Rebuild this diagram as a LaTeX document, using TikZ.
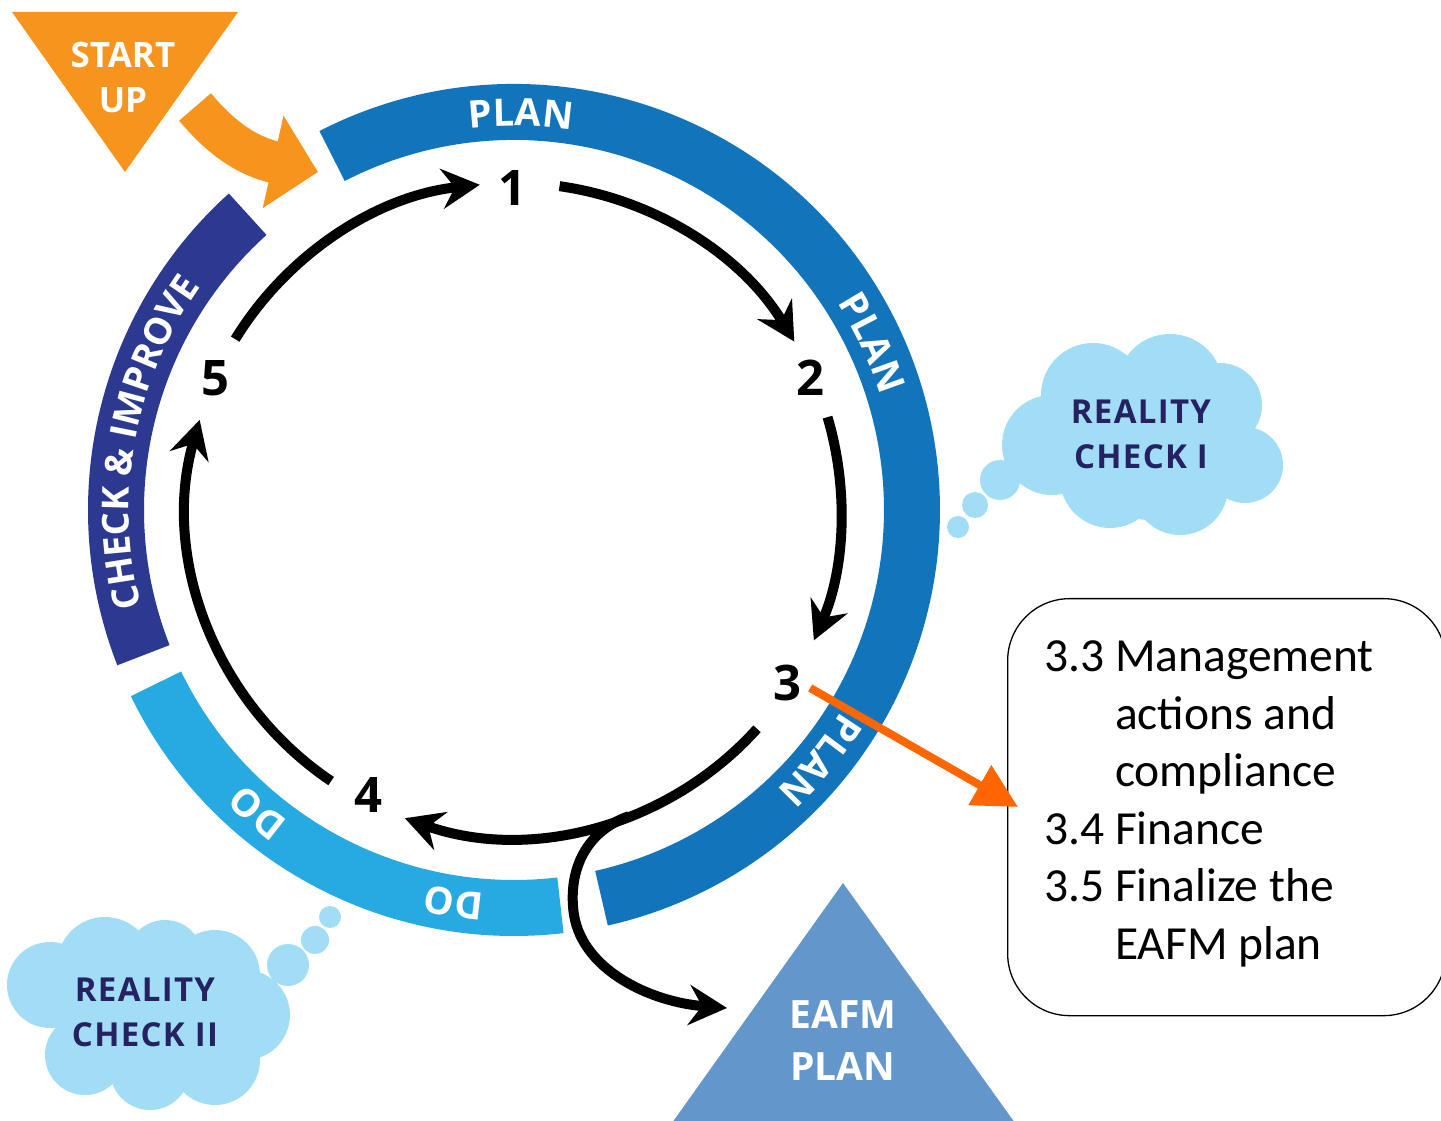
\documentclass[tikz,border=0pt]{standalone}
\usepackage{fontspec}
\setmainfont{Open Sans}
\newfontfamily\boxfont{Carlito}
\newfontfamily\cloudfont{Open Sans}[LetterSpace=4]
\usetikzlibrary{arrows.meta,decorations.text,calc}

\definecolor{planblue}{RGB}{18,117,188}
\definecolor{doblue}{RGB}{39,170,225}
\definecolor{checknavy}{RGB}{43,57,144}
\definecolor{startorange}{RGB}{247,148,29}
\definecolor{linkorange}{RGB}{255,102,0}
\definecolor{cloudblue}{RGB}{161,222,246}
\definecolor{cloudink}{RGB}{38,34,98}
\definecolor{eafmblue}{RGB}{99,150,203}

% white caption written along a clockwise arc of the ring:
% centre angle, half span, baseline radius, font size, text
\newcommand\bandlabel[5]{%
  \begingroup\fontsize{#4}{#4}\selectfont\bfseries
  \path[decorate,decoration={text along path,text align=center,text color=white,
    text={#5}}]
    ($(c)+(#1+#2:#3)$) arc[start angle=#1+#2,end angle=#1-#2,radius=#3];%
  \endgroup}

\begin{document}
\begin{tikzpicture}[x=1pt,y=1pt,
  band/.style={line width=56pt},
  num/.style={font=\bfseries\fontsize{49}{49}\selectfont,inner sep=0pt},
  cyc/.style={line width=10pt,-{Stealth[length=38pt,width=40pt,inset=13pt]}},
  wlabel/.style={text=white,font=\bfseries\fontsize{#1}{#1}\selectfont,inner sep=0pt},
  cloudlabel/.style={text=cloudink,inner sep=0pt,
    font=\cloudfont\bfseries\fontsize{33}{33}\selectfont},
]
\useasboundingbox (0,0) rectangle (1441,1120);
\clip (0,0) rectangle (1441,1120);

\coordinate (c) at (514,610);

% the three coloured segments of the ring
\draw[band,planblue]  ($(c)+(117.2:398)$) arc[start angle=117.2,end angle=-77.3,radius=398];
\draw[band,doblue]    ($(c)+(-83.3:398)$) arc[start angle=-83.3,end angle=-154.1,radius=398];
\draw[band,checknavy] ($(c)+(201.4:398)$) arc[start angle=201.4,end angle=132,radius=398];

\bandlabel{89}{30}{384}{38}{PLAN}
\bandlabel{25}{30}{384}{38}{PLAN}
\bandlabel{-39.3}{30}{384}{38}{PLAN}
\bandlabel{-98.7}{25}{384}{38}{DO}
\bandlabel{-130.3}{25}{384}{38}{DO}
\bandlabel{169.5}{36}{385}{37}{CHECK {\&} IMPROVE}

% start-up triangle and its arrow into the ring
\fill[startorange] (12,1108) -- (238,1108) -- (125,948) -- cycle;
\node[wlabel=35] (start) at (123,1065) {START};
\node[wlabel=35] (up) at (123,1020) {UP};
\coordinate (su0) at (195,1013);
\coordinate (su1) at (318,948);
\draw[startorange,line width=42pt,-{Triangle[length=46pt,width=92pt]}]
  (su0) .. controls (212,993) and (238,966) .. (su1);

% step numbers
\node[num] (n1) at (512,932) {1};
\node[num] (n2) at (810,742) {2};
\node[num] (n3) at (787,437) {3};
\node[num] (n4) at (368,325) {4};
\node[num] (n5) at (215,742) {5};

% cycle arrows between the steps
\coordinate (s12) at ($(c)+(82:327)$);
\coordinate (s23) at ($(c)+(16.5:327)$);
\coordinate (s34) at ($(c)+(-42:327)$);
\coordinate (s45) at ($(c)+(-124:327)$);
\coordinate (s51) at ($(c)+(148.5:327)$);
\draw[cyc] (s12) arc[start angle=82,end angle=31,radius=327];
\draw[cyc] (s23) arc[start angle=16.5,end angle=-23.5,radius=327];
\draw[cyc] (s34) arc[start angle=-42,end angle=-109.5,radius=327];
\draw[cyc] (s45) arc[start angle=-124,end angle=-196,radius=327];
\draw[cyc] (s51) arc[start angle=148.5,end angle=96,radius=327];

% branch leading out to the plan
\coordinate (br) at ($(c)+(-69.4:327)$);
\coordinate (toplan) at (727,112);
\draw[cyc] (br) .. controls (582,287) and (568,245) .. (574,205)
  .. controls (583,150) and (650,118) .. (toplan);

% EAFM plan triangle
\fill[eafmblue] (667,-10) -- (843,237) -- (1020,-10) -- cycle;
\node[wlabel=39] (eafm) at (843,105) {EAFM};
\node[wlabel=39] (eafmplan) at (843,53) {PLAN};

% reality check clouds
\fill[cloudblue] (1093,725) circle[radius=52] (1052,675) circle[radius=50]
  (1170,733) circle[radius=53] (1220,715) circle[radius=42]
  (1245,655) circle[radius=38] (1180,633) circle[radius=48]
  (1110,642) circle[radius=50] (1150,680) circle[radius=80]
  (1000,640) circle[radius=20] (975,615) circle[radius=13] (958,593) circle[radius=11];
\node[cloudlabel] (rc1a) at (1141,708) {REALITY};
\node[cloudlabel] (rc1b) at (1141,663) {CHECK I};

\fill[cloudblue] (50,135) circle[radius=43] (105,155) circle[radius=48]
  (165,162) circle[radius=38] (215,145) circle[radius=45]
  (245,105) circle[radius=45] (215,60) circle[radius=45]
  (150,50) circle[radius=40] (85,65) circle[radius=40] (150,105) circle[radius=75]
  (288,155) circle[radius=21] (315,180) circle[radius=14] (330,203) circle[radius=11];
\node[cloudlabel] (rc2a) at (145,130) {REALITY};
\node[cloudlabel] (rc2b) at (145,85) {CHECK II};

% step 3 detail box
\node[draw,line width=1.3pt,rounded corners=62pt,minimum width=438pt,minimum height=417pt,
  anchor=north west,inner sep=0pt] (box) at (1007,522) {};
\node[anchor=base west,inner sep=0pt] (steps) at (1044,448)
  {\boxfont\fontsize{47.5}{57.5}\selectfont
   \begin{tabular}[t]{@{}l@{\ }l@{}}
   3.3 & Management\\
       & actions and\\
       & compliance\\
   3.4 & Finance\\
   3.5 & Finalize the\\
       & EAFM plan
   \end{tabular}};
\coordinate (boxin) at (1018,313);
\draw[linkorange,line width=8pt,-{Triangle[length=44pt,width=44pt]}]
  ($(n3.east)+(9,-5)$) -- (boxin);
\end{tikzpicture}
\end{document}
